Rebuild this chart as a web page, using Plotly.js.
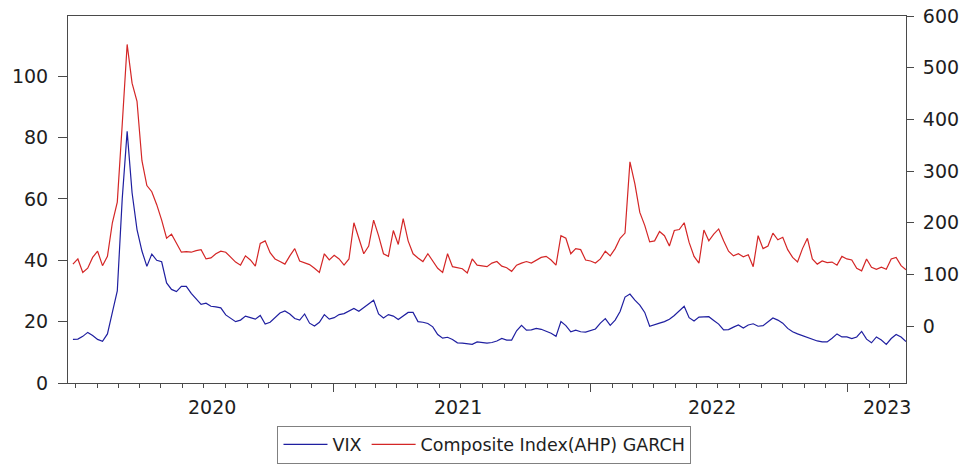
<!DOCTYPE html>
<html>
<head>
<meta charset="utf-8">
<script src="https://cdn.plot.ly/plotly-3.0.1.min.js"></script>
<style>html,body{margin:0;padding:0;background:#fff;}#chart{width:969px;height:466px;}</style>
</head>
<body>
<div id="chart"></div>
<script>
// Weekly observations, first week ending 2019-12-28, one value per week
const firstWeek = '2019-12-28';
const stepDays = 7;

const vix = [
14.2,14.3,15.2,16.5,15.5,14.2,13.6,16.0,23,30,
60,82,62,50,43,38,42,40,39.5,32.6,
30.5,29.8,31.5,31.5,29.2,27.5,25.6,26,25,24.8,
24.5,22.2,21,20,20.5,21.8,21.3,20.8,22,19.2,
19.8,21.3,22.8,23.5,22.5,21,20.5,22.5,19.5,18.6,
19.8,22.3,20.8,21.3,22.3,22.6,23.5,24.3,23.4,24.6,
26,27,22.5,21.2,22.3,21.8,20.7,22,23,23,
20,19.8,19.4,18.3,15.8,14.6,14.9,14.2,13.1,13,
12.7,12.6,13.4,13.1,13,13.2,13.7,14.5,14,14,
17,18.8,17.2,17.3,17.8,17.5,16.8,16.2,15.2,20,
18.7,16.7,17.2,16.7,16.6,17,17.6,19.5,21,18.8,
20.5,23.3,28,29,27,25.4,23,18.5,18.9,19.5,
20,20.8,22,23.5,25,21.3,20.2,21.5,21.6,21.6,
20.4,19.2,17.3,17.4,18.2,18.9,17.9,18.9,19.3,18.5,
18.7,20,21.2,20.5,19.5,17.8,16.7,16,15.4,15,
14.2,13.7,13.4,13.4,14.6,16,15,15,14.5,15,
16.8,14.3,13.1,15,14,12.6,14.5,15.8,15,13.5
];

const composite = [
120,130,104,112,133,145,117,135,200,240,
390,545,470,435,320,272,260,235,205,170,
178,160,143,144,143,146,148,130,132,140,
145,143,134,124,118,136,128,116,160,165,
142,130,125,120,136,150,126,123,119,112,
104,140,128,137,130,118,130,200,170,140,
155,205,175,140,135,185,158,208,165,140,
132,125,140,125,112,104,140,115,113,111,
103,130,118,116,115,122,125,116,113,106,
118,122,125,122,128,133,135,128,118,175,
170,140,150,148,128,126,122,130,145,136,
150,170,180,318,275,220,195,163,165,183,
175,155,185,187,200,162,135,122,186,165,
178,188,165,145,136,140,134,138,115,175,
150,155,180,167,172,148,133,124,150,170,
130,120,126,123,124,118,135,130,128,112,
107,130,114,110,114,110,130,133,117,109
];

const seriesNames = ['VIX', 'Composite Index(AHP) GARCH'];
const leftTicks = [0, 20, 40, 60, 80, 100];
const rightTicks = [0, 100, 200, 300, 400, 500, 600];
const yearStarts = ['2021-01-01', '2022-01-01', '2023-01-01'];
const yearLabels = ['2020', '2021', '2022', '2023'];
const yearLabelDates = ['2020-07-12', '2021-06-27', '2022-06-22', '2023-02-26'];

const dates = [];
const base = new Date(firstWeek + 'T00:00:00Z');
for (let i = 0; i < vix.length; i++) {
  const d = new Date(base.getTime() + i * stepDays * 86400000);
  dates.push(d.toISOString().slice(0, 10));
}

const fontFam = 'DejaVu Sans, Liberation Sans, Arial, sans-serif';
const axisCol = '#4a4a4a';
const textCol = '#1e1e1e';

const traces = [
  {x: dates, y: vix, name: seriesNames[0], type: 'scatter', mode: 'lines',
   line: {color: '#1f1fa0', width: 1.2}, yaxis: 'y'},
  {x: dates, y: composite, name: seriesNames[1], type: 'scatter', mode: 'lines',
   line: {color: '#d42626', width: 1.2}, yaxis: 'y2'}
];

const annotations = yearLabels.map((t, i) => ({
  text: t, x: yearLabelDates[i], xref: 'x', y: 0, yref: 'paper',
  yanchor: 'top', xanchor: 'center', yshift: -11, showarrow: false,
  font: {family: fontFam, size: 19, color: textCol}
}));

const layout = {
  width: 969, height: 466,
  margin: {l: 68, r: 63, t: 16, b: 83, pad: 0, autoexpand: false},
  paper_bgcolor: '#fff', plot_bgcolor: '#fff',
  font: {family: fontFam, size: 19, color: textCol},
  showlegend: true,
  legend: {orientation: 'h', x: 0.497, xanchor: 'center', y: -0.116, yanchor: 'top',
           bordercolor: '#808080', borderwidth: 1, bgcolor: '#fff', itemwidth: 44,
           font: {family: fontFam, size: 17.5, color: textCol}, traceorder: 'normal'},
  xaxis: {type: 'date', range: ['2019-12-21', '2023-03-25'],
          tickmode: 'array', tickvals: yearStarts, showticklabels: false,
          ticks: 'outside', ticklen: 8, tickcolor: axisCol, tickwidth: 1,
          showgrid: false, zeroline: false, showline: true, linecolor: axisCol, linewidth: 1, mirror: true,
          minor: {dtick: 'M1', tick0: '2020-01-01', ticks: 'outside', ticklen: 4, tickcolor: axisCol, showgrid: false}},
  yaxis: {range: [0, 119.6], tickmode: 'array', tickvals: leftTicks,
          ticks: 'outside', ticklen: 9, tickcolor: axisCol, ticklabelstandoff: 6,
          tickfont: {family: fontFam, size: 19, color: textCol},
          showgrid: false, zeroline: false, showline: true, linecolor: axisCol, linewidth: 1},
  yaxis2: {overlaying: 'y', side: 'right', range: [-110, 600], tickmode: 'array', tickvals: rightTicks,
           ticks: 'outside', ticklen: 7, tickcolor: axisCol, ticklabelstandoff: 5,
           tickfont: {family: fontFam, size: 19, color: textCol},
           showgrid: false, zeroline: false, showline: true, linecolor: axisCol, linewidth: 1},
  annotations: annotations
};

Plotly.newPlot('chart', traces, layout, {displayModeBar: false, staticPlot: true});
</script>
</body>
</html>
